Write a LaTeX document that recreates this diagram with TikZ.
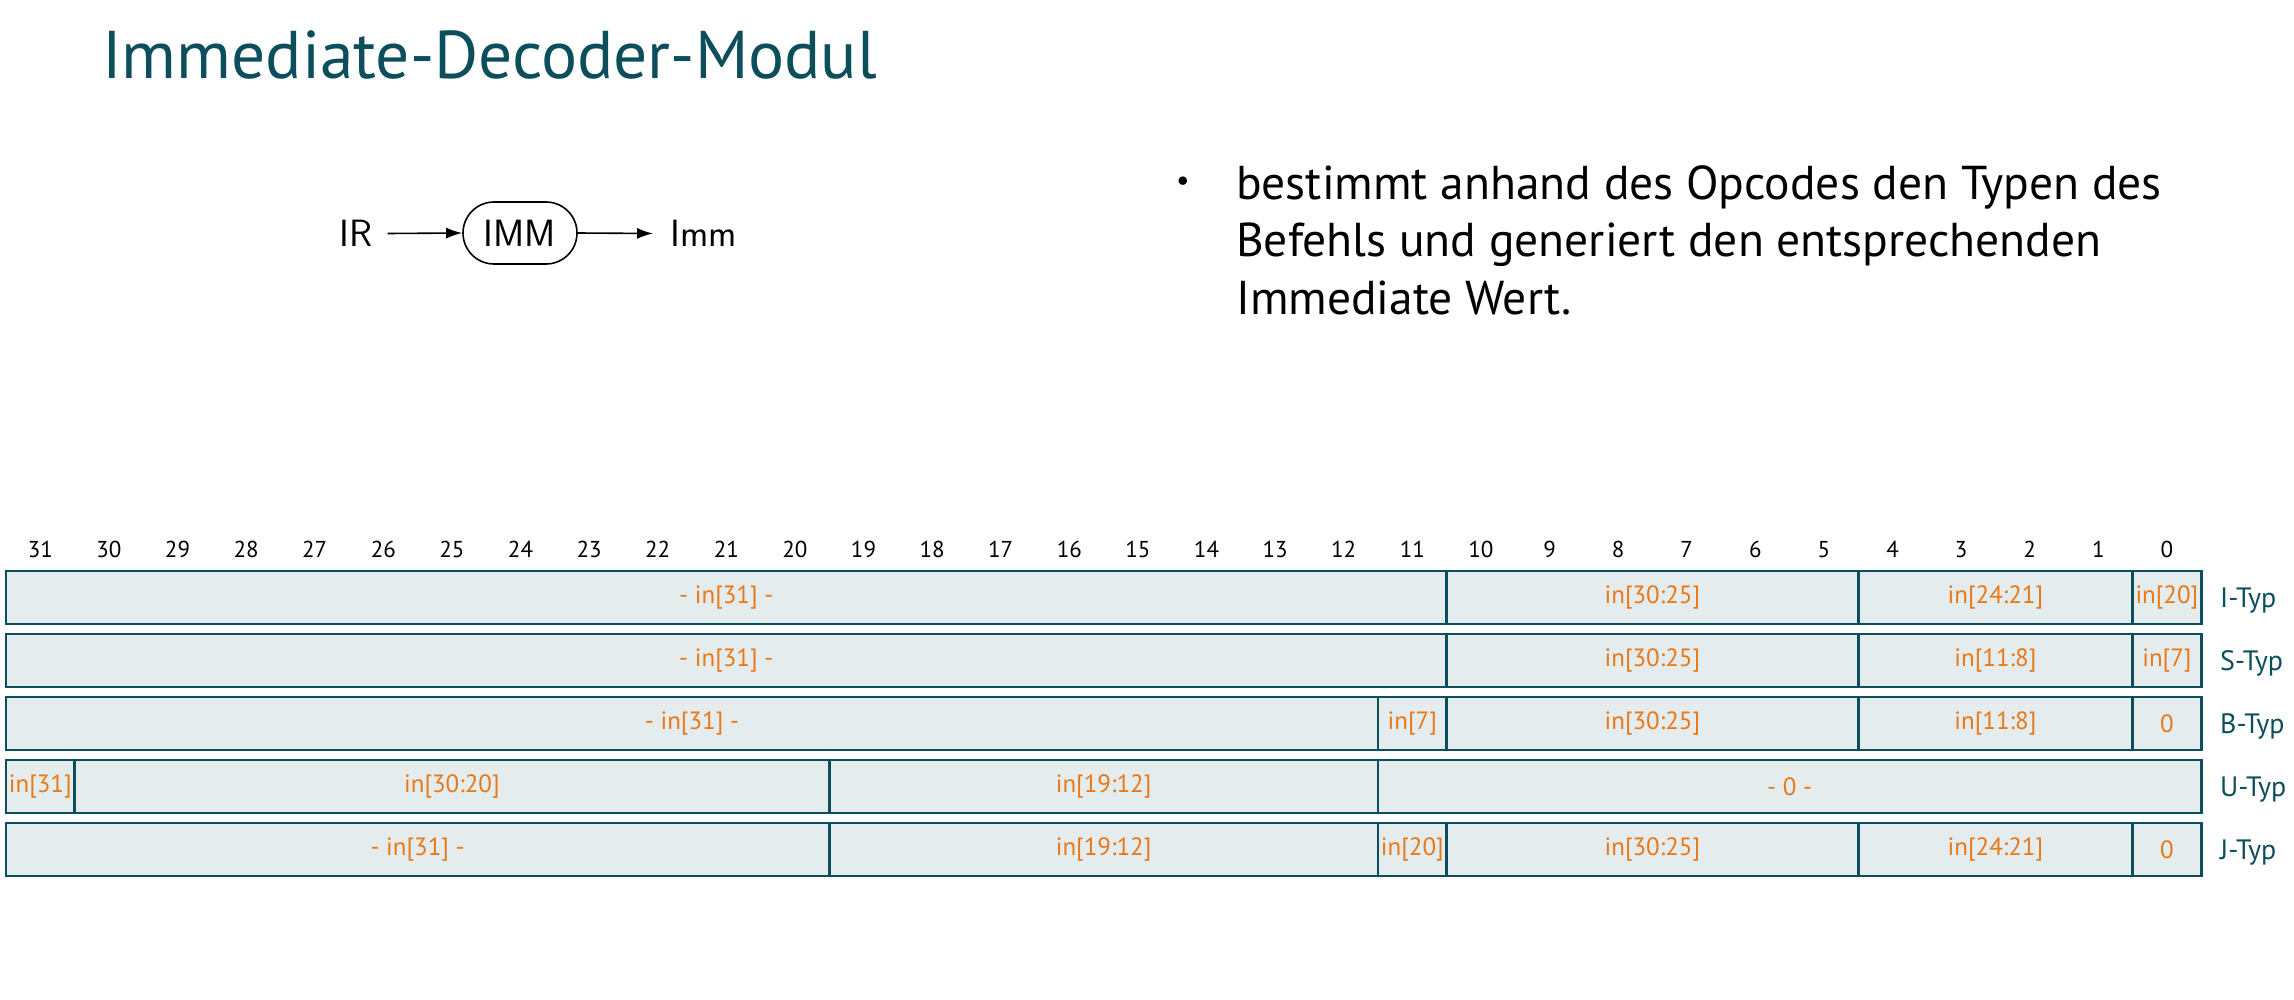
\documentclass[tikz,border=0pt]{standalone}
\usepackage{fontspec}
\setmainfont{PT Sans}
\usetikzlibrary{arrows.meta}

\definecolor{deckteal}{HTML}{0C4E5C}
\definecolor{fieldorange}{HTML}{E97817}
\definecolor{fieldfill}{HTML}{E4ECEE}

% one field of an immediate layout: name, row, high bit, low bit, text
\newcommand\bitcell[5]{%
  \pgfmathsetmacro\cxa{6+(31-#3)*68.6}%
  \pgfmathsetmacro\cxb{6+(32-#4)*68.6}%
  \pgfmathsetmacro\cxm{(\cxa+\cxb)/2}%
  \pgfmathsetmacro\cyc{571+63*#2+26.5}%
  \pgfmathsetmacro\cwd{\cxb-\cxa}%
  \node[fieldbox, minimum width=\cwd pt] (#1) at (\cxm,\cyc) {#5};%
}

\begin{document}
\begin{tikzpicture}[x=1pt,y=-1pt,
  fieldbox/.style={draw=deckteal, line width=2.8pt, fill=fieldfill,
    minimum height=53pt, inner sep=0pt, text=fieldorange,
    font=\fontsize{25}{28}\selectfont},
  bitnum/.style={anchor=base, inner sep=0pt, font=\fontsize{23}{26}\selectfont},
  rowlabel/.style={anchor=base west, inner sep=0pt, text=deckteal,
    font=\fontsize{28}{30}\selectfont},
  bodyline/.style={anchor=base west, inner sep=0pt,
    font=\fontsize{47.5}{57}\selectfont},
  sig/.style={inner ysep=0pt, font=\sffamily\fontsize{38}{42}\selectfont},
  flow/.style={line width=1.6pt, -{Latex[length=16pt,width=11pt]}}]

\useasboundingbox (0,0) rectangle (2294,1000);

% heading
\node[anchor=base west, inner sep=0pt, text=deckteal,
  font=\fontsize{67.5}{72}\selectfont] (title) at (102,79) {Immediate-Decoder-Modul};

% module symbol
\node[sig, inner xsep=15pt] (ir) at (356,233.5) {IR};
\node[sig, draw, line width=1.6pt, rounded corners=31pt,
  minimum width=114pt, minimum height=62pt, inner sep=0pt] (imm) at (520,233) {IMM};
\node[sig, inner xsep=17pt, anchor=west] (immout) at (653,233.5) {Imm};
\draw[flow] (ir.east) -- (imm.west);
\draw[flow] (imm.east) -- (immout.west);

% description
\node[inner sep=0pt, font=\fontsize{30}{30}\selectfont] (dot) at (1183,184) {•};
\node[bodyline] (d1) at (1236,200) {bestimmt anhand des Opcodes den Typen des};
\node[bodyline] (d2) at (1236,257) {Befehls und generiert den entsprechenden};
\node[bodyline] (d3) at (1236,314) {Immediate Wert.};

% bit positions
\foreach \b in {0,...,31}
  \node[bitnum] (n\b) at ({6+(31.5-\b)*68.6},557) {\b};

% I-type
\bitcell{ia}{0}{31}{11}{- in[31] -}
\bitcell{ib}{0}{10}{5}{in[30:25]}
\bitcell{ic}{0}{4}{1}{in[24:21]}
\bitcell{id}{0}{0}{0}{in[20]}
% S-type
\bitcell{sa}{1}{31}{11}{- in[31] -}
\bitcell{sb}{1}{10}{5}{in[30:25]}
\bitcell{sc}{1}{4}{1}{in[11:8]}
\bitcell{sd}{1}{0}{0}{in[7]}
% B-type
\bitcell{ba}{2}{31}{12}{- in[31] -}
\bitcell{bb}{2}{11}{11}{in[7]}
\bitcell{bc}{2}{10}{5}{in[30:25]}
\bitcell{bd}{2}{4}{1}{in[11:8]}
\bitcell{be}{2}{0}{0}{0}
% U-type
\bitcell{ua}{3}{31}{31}{in[31]}
\bitcell{ub}{3}{30}{20}{in[30:20]}
\bitcell{uc}{3}{19}{12}{in[19:12]}
\bitcell{ud}{3}{11}{0}{- 0 -}
% J-type
\bitcell{ja}{4}{31}{20}{- in[31] -}
\bitcell{jb}{4}{19}{12}{in[19:12]}
\bitcell{jc}{4}{11}{11}{in[20]}
\bitcell{jd}{4}{10}{5}{in[30:25]}
\bitcell{je}{4}{4}{1}{in[24:21]}
\bitcell{jf}{4}{0}{0}{0}

% type names
\foreach \t [count=\k from 0] in {I,S,B,U,J}
  \node[rowlabel] (lbl\t) at (2220,{571+63*\k+36}) {\t-Typ};

\end{tikzpicture}
\end{document}
